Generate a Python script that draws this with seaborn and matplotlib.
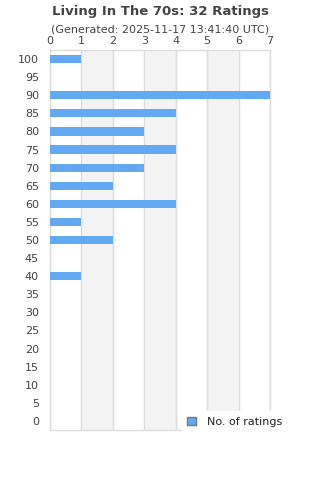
import matplotlib
matplotlib.use("Agg")
import matplotlib.pyplot as plt
import seaborn as sns
import pandas as pd
from matplotlib.patches import Patch

# ratings data
scores = [100, 95, 90, 85, 80, 75, 70, 65, 60, 55, 50, 45, 40, 35, 30, 25, 20, 15, 10, 5, 0]
counts = [1, 0, 7, 4, 3, 4, 3, 2, 4, 1, 2, 0, 1, 0, 0, 0, 0, 0, 0, 0, 0]
x_ticks = [0, 1, 2, 3, 4, 5, 6, 7]

df = pd.DataFrame({'score': [str(s) for s in scores], 'count': counts})

sns.set_style("white")
plt.rcParams['font.family'] = ['DejaVu Sans']

fig = plt.figure(figsize=(3.2, 4.8), dpi=100)
ax = fig.add_axes([50/320, 50/480, 220/320, 380/480])

bar_col = '#62a8f3'
sns.barplot(data=df, x='count', y='score', order=df['score'], orient='h',
            color=bar_col, width=0.45, saturation=1, linewidth=0, ax=ax, zorder=3)

# alternating bands
for i in range(1, 7, 2):
    ax.axvspan(i, i + 1, color='#f3f3f3', zorder=0)
for t in x_ticks:
    ax.axvline(t, color='#dddddd', lw=1, zorder=1)

ax.set_xlim(0, 7)
ax.set_ylim(len(scores) - 0.5, -0.5)
ax.set_xticks(x_ticks)
ax.xaxis.tick_top()
ax.tick_params(axis='x', length=0, pad=3, labelsize=8, colors='#444444')
ax.tick_params(axis='y', length=0, pad=8, labelsize=8, colors='#444444')
ax.set_xlabel('')
ax.set_ylabel('')
for s in ax.spines.values():
    s.set_color('#dddddd')
    s.set_linewidth(1)

fig.text(0.5, 1 - 12/480, 'Living In The 70s: 32 Ratings', ha='center', va='center',
         fontsize=9.5, fontweight='bold', color='#444444')
fig.text(0.5, 1 - 29/480, '(Generated: 2025-11-17 13:41:40 UTC)', ha='center', va='center',
         fontsize=8, color='#444444')

handle = Patch(facecolor=bar_col, edgecolor='#777777', lw=1)
leg = ax.legend([handle], ['No. of ratings'], loc='center left',
                bbox_to_anchor=(176/320, 1 - 422/480), bbox_transform=fig.transFigure,
                frameon=True, facecolor='white', edgecolor='white', framealpha=1,
                fontsize=8, handlelength=0.8, handleheight=0.8, borderpad=0.5,
                handletextpad=1.0)
for t in leg.get_texts():
    t.set_color('#222222')
leg.set_zorder(10)

fig.savefig('out.png', dpi=100)
